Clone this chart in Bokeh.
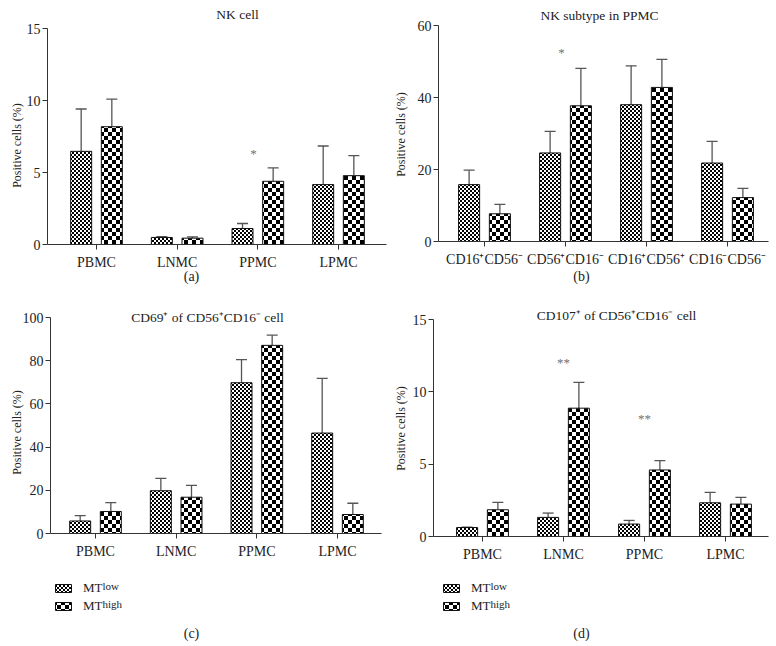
import zlib, struct, base64
import numpy as np
from bokeh.plotting import figure
from bokeh.models import (ColumnDataSource, Whisker, TeeHead, Label, FixedTicker,
                          Legend, LegendItem, ImageURLTexture, Range1d)
from bokeh.layouts import row, column
from bokeh.embed import file_html
from bokeh.resources import INLINE

# ---------------- data ----------------
nk_sites = ["PBMC", "LNMC", "PPMC", "LPMC"]
nk_subtypes = ["CD16⁺CD56⁻", "CD56⁺CD16⁻", "CD16⁺CD56⁺", "CD16⁻CD56⁻"]

a_low = [6.47, 0.49, 1.11, 4.16]
a_low_sem = [2.94, 0.06, 0.35, 2.68]
a_high = [8.18, 0.44, 4.39, 4.78]
a_high_sem = [1.92, 0.09, 0.93, 1.39]

b_low = [15.8, 24.6, 38.0, 21.8]
b_low_sem = [4.0, 6.0, 10.8, 6.0]
b_high = [7.7, 37.7, 42.8, 12.2]
b_high_sem = [2.6, 10.4, 7.8, 2.55]

c_low = [5.8, 19.8, 69.8, 46.5]
c_low_sem = [2.5, 5.7, 10.7, 25.3]
c_high = [10.2, 16.8, 87.1, 8.8]
c_high_sem = [4.1, 5.5, 4.7, 5.2]

d_low = [0.62, 1.32, 0.86, 2.33]
d_low_sem = [0.03, 0.30, 0.25, 0.72]
d_high = [1.85, 8.87, 4.6, 2.24]
d_high_sem = [0.51, 1.78, 0.65, 0.46]

a_yticks = [0, 5, 10, 15]
b_yticks = [0, 20, 40, 60]
c_yticks = [0, 20, 40, 60, 80, 100]
d_yticks = [0, 5, 10, 15]

series_names = ["low", "high"]

# ---------------- style ----------------
FONT = "Liberation Serif"
AX = "#333333"
EC = "#555555"
TXT = "#222222"
OFF = 0.19
BW = 0.26


def png_checker(n):
    size = 2 * n
    rows = []
    for yy in range(size):
        r = bytearray([0])
        for xx in range(size):
            black = ((xx // n) + (yy // n)) % 2 == 0
            r += bytes([0, 0, 0]) if black else bytes([255, 255, 255])
        rows.append(bytes(r))
    raw = b"".join(rows)

    def chunk(t, d):
        return struct.pack(">I", len(d)) + t + d + struct.pack(">I", zlib.crc32(t + d) & 0xffffffff)
    png = (b"\x89PNG\r\n\x1a\n" + chunk(b"IHDR", struct.pack(">IIBBBBB", size, size, 8, 2, 0, 0, 0))
           + chunk(b"IDAT", zlib.compress(raw)) + chunk(b"IEND", b""))
    return "data:image/png;base64," + base64.b64encode(png).decode()


LOW_TEX = png_checker(2)
HIGH_TEX = png_checker(4)


def make_panel(W, H, geom, tick1, sp, cats, low, low_sem, high, high_sem,
               ymax, yticks, title, tag, ylab_pos, title_pos, tag_pos, stars,
               legend_pos=None):
    L, R, T, B = geom

    def X(px):
        return 1 + (px - tick1) / sp

    def Y(py):
        return ymax * (B - py) / (B - T)

    p = figure(width=W, height=H, output_backend="svg", toolbar_location=None,
               x_range=Range1d(X(0), X(W)), y_range=Range1d(Y(H), Y(0)),
               min_border=0, min_border_left=0, min_border_right=0,
               min_border_top=0, min_border_bottom=0)
    p.outline_line_color = None
    p.xgrid.visible = False
    p.ygrid.visible = False
    p.background_fill_color = "white"
    p.border_fill_color = "white"

    xs = np.arange(1, len(cats) + 1)
    src_low = ColumnDataSource(dict(x=xs - OFF, top=low, upper=np.add(low, low_sem)))
    src_high = ColumnDataSource(dict(x=xs + OFF, top=high, upper=np.add(high, high_sem)))

    common = dict(width=BW, fill_color="white", line_color="#111111", line_width=1,
                  hatch_color="black")
    r_low = p.vbar(x="x", top="top", source=src_low, hatch_pattern="dot",
                   hatch_extra={"dot": ImageURLTexture(url=LOW_TEX, repetition="repeat")},
                   **common)
    r_high = p.vbar(x="x", top="top", source=src_high, hatch_pattern="ring",
                    hatch_extra={"ring": ImageURLTexture(url=HIGH_TEX, repetition="repeat")},
                    **common)

    for src in (src_low, src_high):
        p.add_layout(Whisker(source=src, base="x", upper="upper", lower="top",
                             dimension="height", line_color=EC, line_width=1.3,
                             upper_head=TeeHead(size=11, line_color=EC, line_width=1.3),
                             lower_head=None))

    p.xaxis.ticker = FixedTicker(ticks=[int(v) for v in xs])
    p.xaxis.major_label_overrides = {int(v): c for v, c in zip(xs, cats)}
    p.yaxis.ticker = FixedTicker(ticks=yticks)
    p.xaxis.fixed_location = 0
    p.xaxis.bounds = (X(L), X(R))
    p.yaxis.fixed_location = X(L)
    p.yaxis.bounds = (0, ymax)
    for ax in (p.xaxis[0], p.yaxis[0]):
        ax.axis_line_color = AX
        ax.axis_line_width = 1
        ax.major_tick_line_color = AX
        ax.major_tick_out = 5
        ax.major_tick_in = 0
        ax.minor_tick_line_color = None
        ax.major_label_text_font = FONT
        ax.major_label_text_font_size = "14px"
        ax.major_label_text_color = TXT
    p.xaxis.major_label_standoff = 5
    p.yaxis.major_label_standoff = 2

    def lab(text, pos, size, angle=0.0, color=TXT, align="center"):
        p.add_layout(Label(x=X(pos[0]), y=Y(pos[1]), text=text, text_font=FONT,
                           text_font_size=f"{size}px", text_align=align,
                           text_baseline="middle", angle=angle, text_color=color))

    lab(title, title_pos, 13.5)
    lab(tag, tag_pos, 14)
    lab("Positive cells (%)", ylab_pos, 12, angle=np.pi / 2)
    for s, pos in stars:
        lab(s, pos, 13, color="#707070")

    if legend_pos is not None:
        gx, gtop = legend_pos
        leg = Legend(items=[LegendItem(label="MT", renderers=[r_low]),
                            LegendItem(label="MT", renderers=[r_high])],
                     location=(gx, H - (gtop + 34)),
                     orientation="vertical", glyph_width=20, glyph_height=10,
                     label_standoff=10, label_height=16, label_width=10, spacing=2,
                     padding=0, margin=0, border_line_color=None,
                     background_fill_alpha=0, label_text_font=FONT,
                     label_text_font_size="13px", label_text_color=TXT,
                     label_text_baseline="middle")
        p.add_layout(leg)
        sx = gx + 49
        lab(series_names[0], (sx, gtop + 5), 11, align="left")
        lab(series_names[1], (sx, gtop + 23), 11, align="left")
    return p


pa = make_panel(388, 300, (47, 386, 28, 244), 96, 80.67, nk_sites,
                a_low, a_low_sem, a_high, a_high_sem, 15, a_yticks,
                "NK cell", "(a)", (16, 145), (237, 14), (191, 276),
                [("*", (253, 153))])
pb = make_panel(388, 300, (50, 380, 25, 241), 96, 81.0, nk_subtypes,
                b_low, b_low_sem, b_high, b_high_sem, 60, b_yticks,
                "NK subtype in PPMC", "(b)", (12.5, 134), (211, 15), (193, 276),
                [("*", (173, 52))])
pc = make_panel(388, 346, (50, 381, 17, 233), 95, 80.67, nk_sites,
                c_low, c_low_sem, c_high, c_high_sem, 100, c_yticks,
                "CD69⁺ of CD56⁺CD16⁻ cell", "(c)", (16, 132), (207, 17), (191, 333),
                [], legend_pos=(53, 280))
pd_ = make_panel(388, 346, (45, 380, 19, 236), 94, 81.0, nk_sites,
                 d_low, d_low_sem, d_high, d_high_sem, 15, d_yticks,
                 "CD107⁺ of CD56⁺CD16⁻ cell", "(d)", (12.5, 128), (228, 15), (193, 333),
                 [("**", (175, 62)), ("**", (256, 118))], legend_pos=(53, 280))

layout = column(row(pa, pb), row(pc, pd_))
open("out.html", "w").write(file_html(layout, INLINE))
